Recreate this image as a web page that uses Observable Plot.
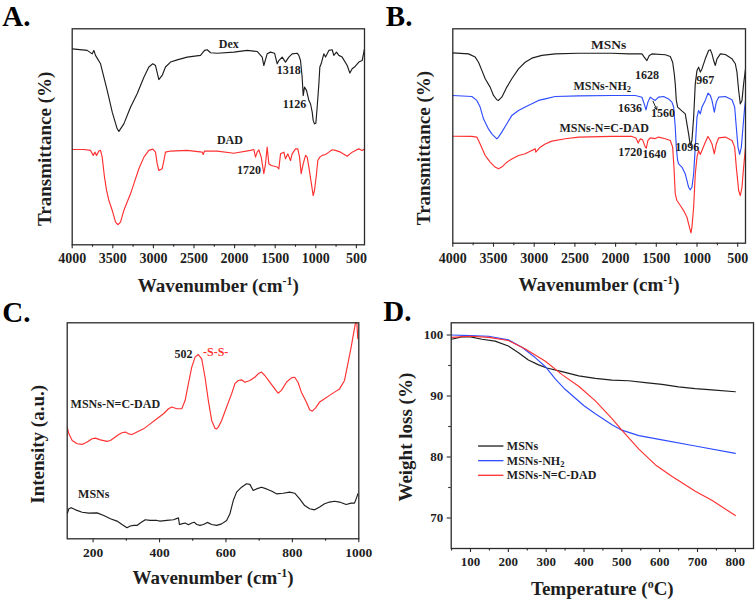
<!DOCTYPE html>
<html><head><meta charset="utf-8">
<script src="https://cdn.jsdelivr.net/npm/d3@7"></script>
<script src="https://cdn.jsdelivr.net/npm/@observablehq/plot@0.6"></script>
<style>
body{margin:0;background:#fff;}
#wrap{position:relative;width:756px;height:600px;overflow:hidden;background:#fff;}
.panel{position:absolute;width:378px;height:300px;}
</style></head><body><div id="wrap"></div>
<script>
// ---------- Panel A: FTIR (wavenumber, transmittance a.u.) ----------
const dexA = [[4000,90.7],[3815,90],[3754,88.4],[3733,90],[3713,87.7],[3651,83.8],[3569,71.5],[3507,61.4],[3446,53.7],[3425,52.5],[3364,56],[3282,63.7],[3200,69.9],[3117,77.6],[3056,82.3],[3007,83.8],[2974,83],[2933,76.5],[2892,78.4],[2851,82.3],[2789,84.6],[2707,85.6],[2584,86.9],[2420,87.7],[2370,90],[2337,90.3],[2296,88.9],[2214,88.7],[2009,89.2],[1845,90],[1722,89.5],[1660,86.9],[1640,83],[1599,88.4],[1558,89.2],[1508,88.7],[1475,83.8],[1455,85.3],[1414,86.9],[1373,84.6],[1332,86.9],[1291,88.4],[1229,88.7],[1209,87.7],[1188,85.3],[1168,77.6],[1155,69.1],[1139,73],[1114,71.5],[1085,66.8],[1065,65.3],[1044,61.4],[1032,57.6],[1016,56],[999,56.3],[983,63.7],[962,74.5],[950,82.3],[934,83.8],[901,88.4],[880,86.9],[839,90],[798,90.3],[778,87.7],[745,89.2],[716,87.7],[675,86.9],[613,83],[580,79.5],[552,81.5],[523,82.3],[470,84.6],[429,85.3],[400,90.7]];
const dadA = [[4000,44.1],[3856,44.1],[3774,43.7],[3741,41.4],[3721,42.9],[3700,41.4],[3672,43.4],[3651,43.7],[3631,40.6],[3602,31.3],[3577,25.2],[3548,20.5],[3507,15.9],[3466,10.5],[3438,9.3],[3405,10.5],[3364,15.9],[3323,19.8],[3282,23.6],[3241,28.2],[3179,35.2],[3117,40.6],[3056,43.7],[3007,44.3],[2974,42.9],[2953,37.5],[2933,34.4],[2892,35.2],[2871,39],[2851,42.9],[2789,43.4],[2584,43.7],[2399,42.9],[2387,41.8],[2370,43.4],[2214,43.4],[2009,42.4],[1804,43.7],[1763,44.1],[1742,40.6],[1722,42.9],[1701,44],[1672,40.6],[1640,32.9],[1619,37.5],[1599,45.2],[1578,37.5],[1549,36.7],[1475,36],[1455,35.2],[1434,42.1],[1393,42.9],[1373,39.8],[1344,42.1],[1311,39],[1291,42.1],[1250,44.4],[1221,44.4],[1200,40.6],[1180,32.9],[1155,37.5],[1126,41.4],[1106,40.6],[1085,36],[1057,29],[1032,22.8],[1016,25.2],[991,32.9],[975,39],[950,40.6],[921,41.4],[880,41.8],[839,42.9],[798,44],[757,43.7],[695,42.9],[613,41],[552,42.9],[511,43.7],[470,44.4],[429,43.7],[400,44.4]];
const labelsA = [
  {x:2071,y:93.1,text:"Dex"},{x:1332,y:80.7,text:"1318"},{x:1262,y:65.3,text:"1126"},
  {x:2058,y:48.6,text:"DAD"},{x:1824,y:34.7,text:"1720"}];

// ---------- Panel B: FTIR ----------
const msnB = [[4000,88.8],[3807,88.3],[3725,86.8],[3684,84.4],[3643,80.6],[3602,76.7],[3541,72.8],[3500,68.9],[3459,66.9],[3439,66.6],[3398,68.1],[3336,72.8],[3275,76.7],[3193,81.3],[3111,84.4],[3029,86.3],[2906,87.6],[2742,88.3],[2455,88.6],[2045,88.6],[1840,88.3],[1676,88.3],[1648,86.8],[1615,85.2],[1586,87.6],[1553,88.3],[1390,87.9],[1328,87.1],[1299,84.4],[1279,79],[1267,74.3],[1254,66.6],[1238,63.5],[1144,60.3],[1103,51],[1082,45.6],[1062,47.9],[1041,58.8],[1021,74.3],[1000,80.6],[980,82.1],[959,79.8],[939,81.3],[898,86],[857,89.9],[836,90.2],[816,88.3],[795,85.2],[775,82.9],[754,86],[713,88.3],[652,88],[570,86],[529,83.7],[509,79.8],[488,71.2],[468,65],[447,66.6],[427,74.3],[404,81.3]];
const nh2B = [[4000,68.9],[3766,68.4],[3705,66.6],[3664,63.5],[3623,58],[3562,53.3],[3521,51],[3459,48.7],[3439,49.5],[3398,51.8],[3336,55.7],[3275,59.6],[3193,61.9],[3111,63.5],[3029,65],[2947,66.6],[2865,67.3],[2742,68.4],[2455,68.7],[2045,68.9],[1758,68.9],[1676,68.1],[1648,65],[1627,62.2],[1603,65.8],[1574,68.1],[1545,67.3],[1513,66.6],[1472,68.1],[1410,68.4],[1349,67.3],[1308,65.8],[1287,63.5],[1267,54.1],[1254,44.8],[1238,38.6],[1226,37],[1185,35.5],[1144,32.3],[1123,29.2],[1103,26.1],[1082,24.9],[1062,26.1],[1041,32.3],[1021,44.8],[1000,58.8],[980,61.9],[959,60.3],[939,63.5],[898,66.6],[865,70],[836,68.9],[816,66.6],[787,61.1],[763,65.8],[734,68.1],[652,68.4],[570,66.9],[537,63.5],[517,54.1],[496,44.8],[476,41.4],[455,44.8],[435,54.1],[414,63.5],[404,66.6]];
const dadB = [[4000,49.9],[3766,49.8],[3705,49.5],[3664,46.3],[3602,40.9],[3541,37.8],[3480,35.5],[3439,34.7],[3398,35.5],[3336,37.8],[3275,39.3],[3193,40.9],[3111,41.7],[3049,42.9],[2988,44],[2980,42.5],[2926,44.8],[2865,46.3],[2783,47.6],[2619,48.7],[2455,49.5],[2045,49.8],[1799,49.8],[1750,49.1],[1722,46.7],[1697,48.7],[1668,48.2],[1635,44.8],[1623,44.3],[1603,47.9],[1574,49.1],[1513,48.8],[1472,49.5],[1390,48.7],[1328,47.9],[1299,44.8],[1283,35.5],[1267,23],[1246,19.9],[1205,17.6],[1164,15.2],[1123,12.1],[1103,9],[1074,4.8],[1062,7.5],[1041,16.8],[1021,32.3],[1000,40.1],[980,43.2],[959,41.4],[939,43.2],[898,47.1],[865,49.8],[836,47.9],[816,46.3],[787,41.7],[763,46.3],[734,49.1],[652,49.5],[570,47.9],[537,44.8],[517,35.5],[488,24.6],[468,22.2],[447,26.1],[427,35.5],[404,44.8]];
const labelsB = [
  {x:2086,y:92.7,text:"MSNs",big:true},{x:1615,y:78.2,text:"1628"},{x:898,y:76.2,text:"967"},
  {x:2164,y:73.1,text:"MSNs-NH2"},{x:1824,y:63.1,text:"1636"},{x:1418,y:60.7,text:"1560"},
  {x:2140,y:53.8,text:"MSNs-N=C-DAD"},{x:1820,y:42.5,text:"1720"},{x:1521,y:41.4,text:"1640"},
  {x:1119,y:44.8,text:"1096"}];
const arrowB = [{x1:1540,y1:66.2,x2:1495,y2:62.4}];

// ---------- Panel C: Raman (wavenumber, intensity a.u.) ----------
const dadC = [[122,51.7],[127,48.6],[137,45.5],[152,44],[167,43.7],[182,44.8],[197,46.3],[207,46.6],[222,45.8],[242,45.1],[252,45.5],[267,47.1],[277,48.3],[287,49.1],[297,49.4],[307,48.6],[317,48.3],[332,49.4],[352,50.9],[372,53.2],[392,55.6],[412,57.9],[427,60.2],[437,61],[452,60.2],[467,60.2],[477,64],[487,71.8],[497,79.5],[507,84.1],[517,85.3],[527,83.3],[537,74.8],[547,64],[557,54.8],[567,51.2],[572,50.9],[577,51.7],[587,54.8],[602,61],[617,67.1],[627,71.8],[637,73.3],[647,73.6],[657,72.5],[672,73.3],[687,74.8],[697,76.4],[707,77.2],[717,75.6],[732,72.5],[747,69.4],[757,67.4],[767,68.7],[782,72.5],[797,74.5],[807,74.8],[817,72.5],[827,67.9],[842,63.3],[852,59.7],[860,59.1],[870,60.6],[882,63.3],[897,64.8],[912,66.4],[927,67.9],[942,69.4],[957,73.3],[967,81],[977,88.7],[984,94.9],[990,100],[994,100],[997,92.6]];
const msnC = [[122,11.6],[127,13.9],[134,14.4],[147,13.4],[167,12.3],[187,11.9],[212,12],[232,10.8],[252,9.3],[272,8.2],[287,6.6],[302,5.1],[312,5.9],[322,6.2],[332,6.2],[342,7.3],[357,8.8],[372,8.5],[392,8.5],[402,8.2],[422,8.5],[442,8.8],[457,9.7],[460,6.6],[467,6.9],[477,7.3],[487,6.5],[497,7.3],[504,7.7],[512,6.6],[522,6.2],[532,6.6],[544,7.6],[557,6.6],[572,6.2],[587,6.9],[602,8.5],[612,11.6],[622,17.7],[632,21.6],[647,23.9],[662,25.5],[672,25.2],[682,22.4],[692,23.1],[707,23.9],[722,23.1],[737,22.1],[752,20.8],[772,21.1],[792,21.6],[807,21.1],[822,18.5],[837,15.4],[852,13.9],[867,13.4],[882,14.7],[897,16.2],[912,17],[927,17.4],[942,17],[962,15.9],[977,16.5],[987,16.5],[994,19.3],[997,20.8]];
const labelsC = [
  {x:472,y:85.6,text:"502",red:false},{x:569,y:86.4,text:"-S-S-",red:true},
  {x:267,y:62.2,text:"MSNs-N=C-DAD",red:false},{x:202,y:20.8,text:"MSNs",red:false}];

// ---------- Panel D: TGA (temperature °C, weight %) ----------
const msnD = [[50,99.3],[77,99.7],[100,99.7],[130,99.3],[165,99.0],[200,98.2],[227,97.1],[253,95.9],[280,95.1],[302,94.6],[342,94.0],[386,93.3],[430,92.9],[474,92.6],[518,92.5],[562,92.2],[606,91.9],[650,91.5],[694,91.2],[738,91.0],[800,90.7]];
const nh2D = [[50,100],[100,99.9],[148,99.8],[200,99.2],[236,98],[271,96.3],[298,94.8],[324,92.8],[350,91.1],[400,88.4],[430,87.1],[474,85.3],[500,84.4],[545,83.5],[606,82.8],[694,81.8],[800,80.6]];
const dadD = [[50,99.6],[100,99.8],[148,99.6],[200,99.1],[245,97.7],[298,95.7],[342,93.5],[386,91.6],[430,89.2],[474,86.3],[500,84.4],[545,81.3],[589,78.7],[633,76.8],[694,74.4],[738,72.9],[800,70.4]];
const legendD = ["MSNs","MSNs-NH2","MSNs-N=C-DAD"];

// ---------- ticks ----------
const irMajor = [4000,3500,3000,2500,2000,1500,1000,500];
const irMinor = [3750,3250,2750,2250,1750,1250,750];
const ramanMajor = [200,400,600,800,1000];
const ramanMinor = [300,500,700,900];
const tgaXMajor = [100,200,300,400,500,600,700,800];
const tgaXMinor = [50,150,250,350,450,550,650,750];
const tgaYMajor = [70,80,90,100];
const tgaYMinor = [75,85,95];

const FONT = "'Liberation Serif','Times New Roman',serif";
const INK = "#1e1e1e", RED = "#ff3030", BLUE = "#2f4dff";

function panel(cfg) {
  const {ml, mr, mt, mb} = cfg;
  const fw = 378 - ml - mr, fh = 300 - mt - mb;
  const bold = {fontWeight: "bold", fontFamily: FONT};
  const marks = [];
  for (const s of cfg.series)
    marks.push(Plot.line(s.data, {x: d => d[0], y: d => d[1], stroke: s.color, strokeWidth: 1.15, clip: true}));
  marks.push(Plot.frame({stroke: "#2a2a2a", strokeWidth: 1.3}));
  // outward ticks
  marks.push(Plot.tickX(cfg.xMajor, {x: d => d, insetTop: fh, insetBottom: -4, stroke: "#2a2a2a", strokeWidth: 1.1}));
  marks.push(Plot.tickX(cfg.xMinor, {x: d => d, insetTop: fh, insetBottom: -2.5, stroke: "#2a2a2a", strokeWidth: 1.1}));
  marks.push(Plot.text(cfg.xMajor, {x: d => d, frameAnchor: "bottom", dy: cfg.tickDy, text: d => String(d), textAnchor: "middle", lineAnchor: "middle", fontSize: cfg.tickSize, fill: INK, ...bold}));
  if (cfg.yMajor) {
    marks.push(Plot.tickY(cfg.yMajor, {y: d => d, insetRight: fw, insetLeft: -4, stroke: "#2a2a2a", strokeWidth: 1.1}));
    marks.push(Plot.tickY(cfg.yMinor, {y: d => d, insetRight: fw, insetLeft: -2.5, stroke: "#2a2a2a", strokeWidth: 1.1}));
    marks.push(Plot.text(cfg.yMajor, {y: d => d, frameAnchor: "left", dx: -8, textAnchor: "end", text: d => String(d), lineAnchor: "middle", fontSize: cfg.tickSize, fill: INK, ...bold}));
  }
  marks.push(Plot.text([cfg.xTitle], {frameAnchor: "bottom", dy: cfg.xTitleDy, text: d => d, textAnchor: "middle", lineAnchor: "middle", fontSize: 19, fill: INK, ...bold}));
  marks.push(Plot.text([cfg.yTitle], {frameAnchor: "left", dx: cfg.yTitleDx, dy: cfg.yTitleDy, rotate: -90, text: d => d, textAnchor: "middle", lineAnchor: "middle", fontSize: 19, fill: INK, ...bold}));
  marks.push(Plot.text([cfg.letter], {frameAnchor: "top-left", dx: cfg.letterDx, dy: cfg.letterDy, textAnchor: "start", lineAnchor: "bottom", text: d => d, fontSize: 29, fill: "#000", ...bold}));
  if (cfg.extra) marks.push(...cfg.extra);
  const svg = Plot.plot({
    width: 378, height: 300,
    marginLeft: ml, marginRight: mr, marginTop: mt, marginBottom: mb,
    x: {domain: cfg.xDomain, axis: null},
    y: {domain: cfg.yDomain, axis: null},
    style: {fontFamily: FONT, background: "transparent", overflow: "visible"},
    marks
  });
  fixScripts(svg);
  const div = document.createElement("div");
  div.className = "panel";
  div.style.left = cfg.left + "px";
  div.style.top = cfg.top + "px";
  div.appendChild(svg);
  document.getElementById("wrap").appendChild(div);
}

function fixScripts(svg) {
  const rules = {
    "Wavenumber (cm-1)": [["Wavenumber (cm", 0], ["-1", -7, 12], [")", 7]],
    "Temperature (oC)": [["Temperature (", 0], ["o", -7, 12], ["C)", 7]],
    "MSNs-NH2": [["MSNs-NH", 0], ["2", 2, 8.5], ["", -2]]
  };
  svg.querySelectorAll("text").forEach(t => {
    const parts = rules[t.textContent];
    if (!parts) return;
    t.textContent = "";
    for (const [s, dy, size] of parts) {
      const ts = document.createElementNS("http://www.w3.org/2000/svg", "tspan");
      if (dy) ts.setAttribute("dy", dy);
      if (size) ts.setAttribute("font-size", size);
      ts.textContent = s;
      t.appendChild(ts);
    }
  });
}

const annBold = {fontWeight: "bold", fontFamily: FONT, lineAnchor: "middle", textAnchor: "middle"};

panel({
  left: 0, top: 0, ml: 71.7, mr: 14, mt: 28.3, mb: 55.7,
  xDomain: [4000, 400], yDomain: [0, 100],
  series: [{data: dexA, color: INK}, {data: dadA, color: RED}],
  xMajor: irMajor, xMinor: irMinor, tickSize: 14, tickDy: 14,
  xTitle: "Wavenumber (cm-1)", xTitleDy: 41,
  yTitle: "Transmittance (%)", yTitleDx: -27, yTitleDy: 12,
  letter: "A.", letterDx: -70, letterDy: -3,
  extra: [Plot.text(labelsA, {x: "x", y: "y", text: "text", fill: INK, fontSize: 12, ...annBold})]
});

panel({
  left: 378, top: 0, ml: 74.3, mr: 11, mt: 28.3, mb: 57.3,
  xDomain: [4000, 404], yDomain: [0, 100],
  series: [{data: msnB, color: INK}, {data: nh2B, color: BLUE}, {data: dadB, color: RED}],
  xMajor: irMajor, xMinor: irMinor, tickSize: 14, tickDy: 15,
  xTitle: "Wavenumber (cm-1)", xTitleDy: 42,
  yTitle: "Transmittance (%)", yTitleDx: -29, yTitleDy: 12,
  letter: "B.", letterDx: -67, letterDy: -3,
  extra: [
    Plot.text(labelsB, {x: "x", y: "y", text: "text", fill: INK, fontSize: d => d.big ? 13.5 : 12, ...annBold}),
    Plot.arrow(arrowB, {x1: "x1", y1: "y1", x2: "x2", y2: "y2", stroke: INK, strokeWidth: 1, headLength: 4})
  ]
});

panel({
  left: 0, top: 300, ml: 66.7, mr: 19.7, mt: 22.3, mb: 61.7,
  xDomain: [122, 1000], yDomain: [0, 100],
  series: [{data: dadC, color: RED}, {data: msnC, color: INK}],
  xMajor: ramanMajor, xMinor: ramanMinor, tickSize: 13.5, tickDy: 14,
  xTitle: "Wavenumber (cm-1)", xTitleDy: 39,
  yTitle: "Intensity (a.u.)", yTitleDx: -29, yTitleDy: 13.5,
  letter: "C.", letterDx: -65, letterDy: -1,
  extra: [Plot.text(labelsC, {x: "x", y: "y", text: "text", fill: d => d.red ? RED : INK, fontSize: 12, ...annBold})]
});

const legX1 = 120, legX2 = 187, legTx = 196, legY0 = 81.8, legStep = 2.4;
panel({
  left: 378, top: 300, ml: 72.7, mr: 3, mt: 22.3, mb: 52,
  xDomain: [49, 848], yDomain: [65, 102],
  series: [{data: msnD, color: INK}, {data: nh2D, color: BLUE}, {data: dadD, color: RED}],
  xMajor: tgaXMajor, xMinor: tgaXMinor, yMajor: tgaYMajor, yMinor: tgaYMinor, tickSize: 13, tickDy: 13,
  xTitle: "Temperature (oC)", xTitleDy: 40,
  yTitle: "Weight loss (%)", yTitleDx: -45, yTitleDy: 1.5,
  letter: "D.", letterDx: -68, letterDy: -2,
  extra: [
    Plot.link(legendD, {x1: legX1, x2: legX2, y1: (d, i) => legY0 - i * legStep, y2: (d, i) => legY0 - i * legStep, stroke: (d, i) => [INK, BLUE, RED][i], strokeWidth: 1.3}),
    Plot.text(legendD, {x: legTx, y: (d, i) => legY0 - i * legStep, text: d => d, fill: INK, fontSize: 12, fontWeight: "bold", fontFamily: FONT, lineAnchor: "middle", textAnchor: "start"})
  ]
});
</script></body></html>
